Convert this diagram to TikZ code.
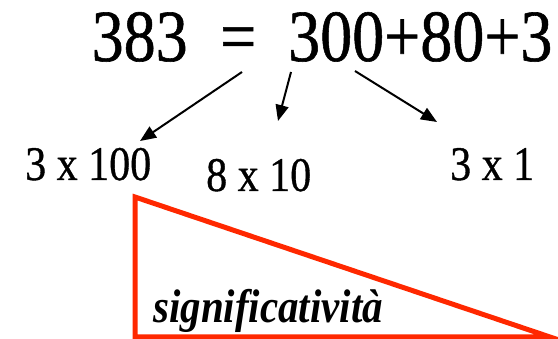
\documentclass[tikz,border=0pt]{standalone}
\usepackage{fontspec}
\usepackage{graphicx}
\setmainfont{Liberation Serif}
\newfontfamily\spesso{Liberation Serif}[FakeBold=0.8]
\usetikzlibrary{arrows.meta}

\definecolor{rosso}{RGB}{255,40,0}
\newcommand{\alto}[1]{\scalebox{1}[1.15]{#1}}
\newcommand{\grande}[1]{\scalebox{1.524}[1.75]{#1}}

\begin{document}
\begin{tikzpicture}[x=1pt, y=-1pt,
    titolo/.style={anchor=base west, inner sep=0pt, font=\spesso\fontsize{42}{42}\selectfont},
    voce/.style={anchor=base west, inner sep=0pt, font=\spesso\fontsize{42}{42}\selectfont},
    freccia/.style={-{Triangle[length=16pt, width=13pt]}, line width=2pt},
    cuneo/.style={draw=rosso, line width=5pt}]

    \useasboundingbox (0,0) rectangle (558,339);

    % Decomposition
    \node[titolo] (n383) at (91.5, 61) {\grande{383}};
    \node[titolo] (neq) at (220, 61) {\grande{=}};
    \node[titolo] (nsum) at (288, 61) {\grande{300+80+3}};

    % Place values
    \node[voce] (c100) at (25, 180) {\alto{3 x 100}};
    \node[voce] (c10) at (206, 191) {\alto{8 x 10}};
    \node[voce] (c1) at (450, 180) {\alto{3 x 1}};

    % Arrows
    \coordinate (a1s) at (242, 72);
    \coordinate (a1e) at (140, 141);
    \coordinate (a2s) at (291, 72);
    \coordinate (a2e) at (278, 121);
    \coordinate (a3s) at (355, 71);
    \coordinate (a3e) at (437, 122);
    \draw[freccia] (a1s) -- (a1e);
    \draw[freccia] (a2s) -- (a2e);
    \draw[freccia] (a3s) -- (a3e);

    % Significance wedge
    \coordinate (vtop) at (135, 197);
    \coordinate (vleft) at (135, 337);
    \coordinate (vright) at (550, 337);
    \draw[cuneo] (vtop) -- (vleft) -- (vright) -- cycle;
    \node[anchor=base west, inner sep=0pt, font=\fontsize{41}{41}\selectfont\bfseries\itshape] (sig) at (153, 323) {\alto{significatività}};

\end{tikzpicture}
\end{document}
